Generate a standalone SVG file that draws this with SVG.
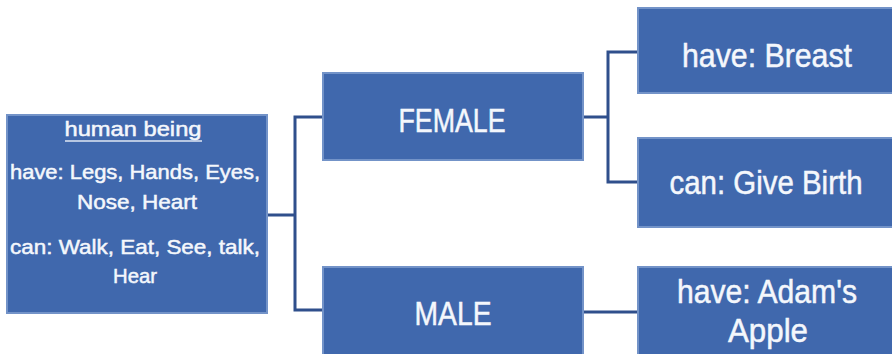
<svg xmlns="http://www.w3.org/2000/svg" width="892" height="354" viewBox="0 0 892 354">
  <style>
    .box { fill: #4068ad; stroke: #7393c8; stroke-width: 2; }
    .lbl { fill: #f4f7fc; stroke: #f4f7fc; stroke-width: 0.5; font-family: "Liberation Sans", Arial, sans-serif; text-anchor: middle; }
    .big { font-size: 33px; }
    .small { font-size: 21px; }
    .wire { fill: none; stroke: #2f4f8c; stroke-width: 3; }
  </style>
  <rect width="892" height="354" fill="#ffffff"/>

  <!-- connectors -->
  <g id="connectors">
    <path class="wire" d="M267 215 H295 M323 117 H295 V310 H323"/>
    <path class="wire" d="M583 117 H608 M638 52 H608 V182 H638"/>
    <path class="wire" d="M583 312 H638"/>
  </g>

  <g id="human">
    <rect class="box" x="7" y="115" width="260" height="198"/>
    <text class="lbl small" x="133" y="136" textLength="137" lengthAdjust="spacingAndGlyphs">human being</text>
    <line x1="65" y1="141" x2="202" y2="141" stroke="#dfe7f4" stroke-width="1.5"/>
    <text class="lbl small" x="135" y="179" textLength="250" lengthAdjust="spacingAndGlyphs">have: Legs, Hands, Eyes,</text>
    <text class="lbl small" x="137" y="209" textLength="120" lengthAdjust="spacingAndGlyphs">Nose, Heart</text>
    <text class="lbl small" x="135" y="254" textLength="250" lengthAdjust="spacingAndGlyphs">can: Walk, Eat, See, talk,</text>
    <text class="lbl small" x="135" y="283" textLength="44" lengthAdjust="spacingAndGlyphs">Hear</text>
  </g>

  <g id="female">
    <rect class="box" x="323" y="73" width="260" height="87"/>
    <text class="lbl big" x="452" y="132" textLength="107" lengthAdjust="spacingAndGlyphs">FEMALE</text>
  </g>

  <g id="male">
    <rect class="box" x="323" y="267" width="260" height="95"/>
    <text class="lbl big" x="453" y="325" textLength="77" lengthAdjust="spacingAndGlyphs">MALE</text>
  </g>

  <g id="breast">
    <rect class="box" x="638" y="8" width="264" height="85"/>
    <text class="lbl big" x="767" y="67" textLength="170" lengthAdjust="spacingAndGlyphs">have: Breast</text>
  </g>

  <g id="birth">
    <rect class="box" x="638" y="138" width="264" height="89"/>
    <text class="lbl big" x="766" y="194" textLength="193" lengthAdjust="spacingAndGlyphs">can: Give Birth</text>
  </g>

  <g id="adams-apple">
    <rect class="box" x="638" y="267" width="264" height="95"/>
    <text class="lbl big" x="767" y="303" textLength="180" lengthAdjust="spacingAndGlyphs">have: Adam's</text>
    <text class="lbl big" x="768" y="342" textLength="80" lengthAdjust="spacingAndGlyphs">Apple</text>
  </g>
</svg>
